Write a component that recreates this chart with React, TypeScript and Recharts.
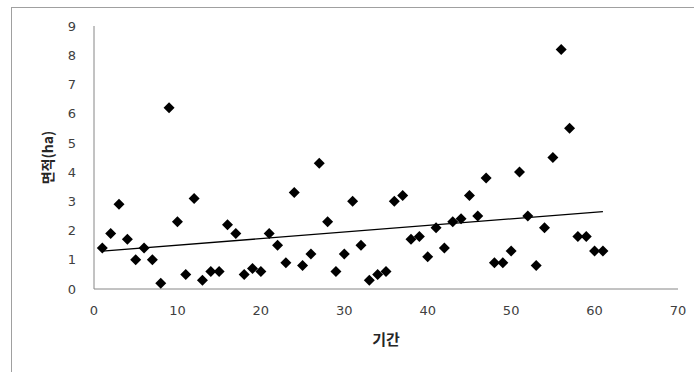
import { ScatterChart, Scatter, XAxis, YAxis, ReferenceLine } from "recharts"

// 기간 (period index) and 면적 (area, ha)
const periods = Array.from({ length: 61 }, (_, i) => i + 1)
const areas = [
  1.4, 1.9, 2.9, 1.7, 1.0, 1.4, 1.0, 0.2, 6.2, 2.3,
  0.5, 3.1, 0.3, 0.6, 0.6, 2.2, 1.9, 0.5, 0.7, 0.6,
  1.9, 1.5, 0.9, 3.3, 0.8, 1.2, 4.3, 2.3, 0.6, 1.2,
  3.0, 1.5, 0.3, 0.5, 0.6, 3.0, 3.2, 1.7, 1.8, 1.1,
  2.1, 1.4, 2.3, 2.4, 3.2, 2.5, 3.8, 0.9, 0.9, 1.3,
  4.0, 2.5, 0.8, 2.1, 4.5, 8.2, 5.5, 1.8, 1.8, 1.3,
  1.3,
]
const xTicks = [0, 10, 20, 30, 40, 50, 60, 70]
const yTicks = [0, 1, 2, 3, 4, 5, 6, 7, 8, 9]

const data = periods.map((p, i) => ({ x: p, y: areas[i] }))

// linear trendline (least squares)
const n = data.length
const mx = data.reduce((s, d) => s + d.x, 0) / n
const my = data.reduce((s, d) => s + d.y, 0) / n
const slope =
  data.reduce((s, d) => s + (d.x - mx) * (d.y - my), 0) /
  data.reduce((s, d) => s + (d.x - mx) ** 2, 0)
const intercept = my - slope * mx
const x0 = periods[0]
const x1 = periods[periods.length - 1]

const Diamond = (props: any) => {
  const { cx, cy } = props
  const r = 5.5
  return (
    <polygon
      points={`${cx},${cy - r} ${cx + r},${cy} ${cx},${cy + r} ${cx - r},${cy}`}
      fill="#000"
    />
  )
}

const tickStyle = { fontSize: 13, fill: "#404040", fontFamily: "DejaVu Sans" }

export default function App() {
  return (
    <div
      style={{
        position: "absolute",
        left: 0,
        top: 0,
        width: 694,
        height: 372,
        overflow: "hidden",
        background: "#fff",
      }}
    >
      <div
        style={{
          position: "absolute",
          left: 11,
          top: 7,
          width: 720,
          height: 400,
          border: "1px solid #a0a0a0",
        }}
      />
      <ScatterChart
        width={694}
        height={372}
        margin={{ top: 26, right: 16, bottom: 0, left: 0 }}
        style={{ position: "absolute", left: 0, top: 0 }}
      >
        <XAxis
          type="number"
          dataKey="x"
          domain={[0, 70]}
          ticks={xTicks}
          height={83}
          tickSize={0}
          tickMargin={17}
          tick={tickStyle}
          axisLine={{ stroke: "#868686" }}
          label={{
            value: "기간",
            position: "insideTop",
            offset: 45,
            style: { fontSize: 15, fontWeight: "bold", fill: "#262626", fontFamily: "Noto Sans CJK KR" },
          }}
        />
        <YAxis
          type="number"
          dataKey="y"
          domain={[0, 9]}
          ticks={yTicks}
          width={94}
          tickSize={0}
          tickMargin={18}
          tick={tickStyle}
          axisLine={{ stroke: "#868686" }}
          label={{
            content: (p: any) => {
              const vb = p.viewBox
              const cx = 47
              const cy = vb.y + vb.height / 2
              return (
                <text
                  x={cx}
                  y={cy}
                  transform={`rotate(-90 ${cx} ${cy})`}
                  textAnchor="middle"
                  dominantBaseline="central"
                  style={{ fontSize: 14, fontWeight: "bold", fill: "#262626", fontFamily: "Noto Sans CJK KR" }}
                >
                  면적(ha)
                </text>
              )
            },
          }}
        />
        <ReferenceLine
          segment={[
            { x: x0, y: intercept + slope * x0 },
            { x: x1, y: intercept + slope * x1 },
          ]}
          stroke="#000"
          strokeWidth={1.3}
        />
        <Scatter data={data} shape={Diamond} isAnimationActive={false} />
      </ScatterChart>
    </div>
  )
}
